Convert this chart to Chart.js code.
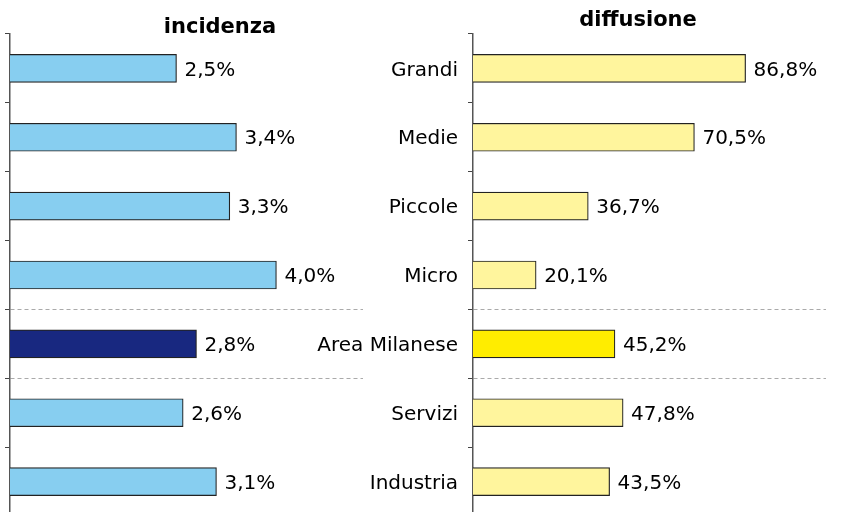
<!DOCTYPE html>
<html>
<head>
<meta charset="utf-8">
<script src="https://cdn.jsdelivr.net/npm/chart.js@4"></script>
<style>
  html, body { margin: 0; padding: 0; background: #fff; overflow: hidden; }
  body { width: 849px; height: 512px; position: relative; font-family: "DejaVu Sans", sans-serif; }
  .box { position: absolute; top: 0; }
  .title { position: absolute; font-weight: bold; font-size: 21px; line-height: 24px; color: #000; transform: translateX(-50%); white-space: nowrap; z-index: 2; }
</style>
</head>
<body>
<div class="box" style="left:0; width:380px; height:516px;"><canvas id="leftChart" width="380" height="516"></canvas></div>
<div class="box" style="left:300px; width:549px; height:516px;"><canvas id="rightChart" width="549" height="516"></canvas></div>
<div class="title" style="left:220px; top:14px;">incidenza</div>
<div class="title" style="left:638px; top:7px;">diffusione</div>

<script>
// categorie e valori
const categories = ['Grandi', 'Medie', 'Piccole', 'Micro', 'Area Milanese', 'Servizi', 'Industria'];
const incidenza = [2.5, 3.4, 3.3, 4.0, 2.8, 2.6, 3.1];
const diffusione = [86.8, 70.5, 36.7, 20.1, 45.2, 47.8, 43.5];
const highlight = 'Area Milanese';

const FONT = '"DejaVu Sans", sans-serif';

// etichette valore a destra delle barre
const valueLabels = {
    id: 'valueLabels',
    afterDatasetsDraw(chart) {
        const ctx = chart.ctx;
        const ds = chart.data.datasets[0];
        ctx.save();
        ctx.font = '20px ' + FONT;
        ctx.fillStyle = '#000';
        ctx.textAlign = 'left';
        ctx.textBaseline = 'middle';
        chart.getDatasetMeta(0).data.forEach((bar, i) => {
            const txt = ds.data[i].toFixed(1).replace('.', ',') + '%';
            ctx.fillText(txt, bar.x + 8, bar.y + 2);
        });
        ctx.restore();
    }
};

function makeChart(id, values, colors, opts) {
    return new Chart(document.getElementById(id), {
        type: 'bar',
        data: {
            labels: categories,
            datasets: [{
                data: values,
                backgroundColor: categories.map(c => c === highlight ? colors[1] : colors[0]),
                borderColor: '#222',
                borderWidth: 1.2,
                barThickness: 28
            }]
        },
        options: {
            indexAxis: 'y',
            responsive: false,
            animation: false,
            layout: { padding: { left: 0, top: 34, right: opts.padRight, bottom: 0 } },
            plugins: {
                legend: { display: false },
                tooltip: { enabled: false }
            },
            scales: {
                x: {
                    display: false,
                    min: 0,
                    max: opts.max
                },
                y: {
                    afterFit: s => {
                        s.width = opts.axisWidth;
                        s.paddingTop = 0;
                        s.paddingBottom = 0;
                    },
                    grid: {
                        offset: true,
                        color: c => (c.index === 4 || c.index === 5) ? '#aaa' : 'rgba(0,0,0,0)',
                        tickColor: '#444',
                        tickLength: 5,
                        lineWidth: 1
                    },
                    border: { color: '#555', width: 1.5, dash: [4, 3] },
                    ticks: {
                        display: opts.showLabels,
                        padding: 10,
                        color: '#000',
                        font: { family: FONT, size: 20 },
                        labelOffset: 2
                    }
                }
            }
        },
        plugins: [valueLabels]
    });
}

makeChart('leftChart', incidenza, ['#87CEF0', '#182880'], { max: 5.3, padRight: 17, axisWidth: 10, showLabels: false });
makeChart('rightChart', diffusione, ['#FFF59D', '#FFED00'], { max: 112.4, padRight: 23, axisWidth: 173, showLabels: true });
</script>
</body>
</html>
